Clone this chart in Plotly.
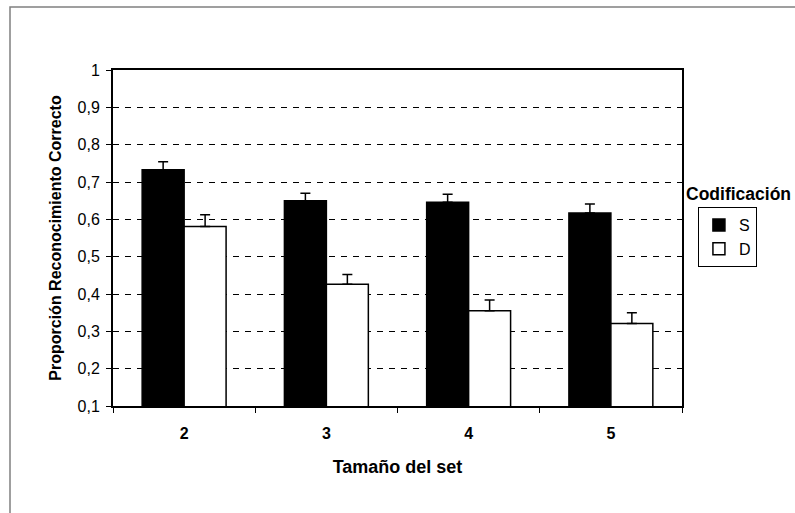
import plotly.graph_objects as go

categories = ["2", "3", "4", "5"]
s_values = [0.733, 0.650, 0.646, 0.617]
s_errors = [0.021, 0.020, 0.021, 0.024]
d_values = [0.581, 0.426, 0.355, 0.321]
d_errors = [0.031, 0.026, 0.029, 0.029]
y_tickvals = [0.1, 0.2, 0.3, 0.4, 0.5, 0.6, 0.7, 0.8, 0.9, 1.0]
y_ticktext = ["0,1", "0,2", "0,3", "0,4", "0,5", "0,6", "0,7", "0,8", "0,9", "1"]

FONT = "Liberation Sans, Arial, sans-serif"

fig = go.Figure()
fig.add_trace(go.Bar(
    x=categories, y=s_values, name="S",
    marker=dict(color="black", line=dict(color="black", width=1.5)),
    error_y=dict(type="data", symmetric=False, array=s_errors,
                 arrayminus=[0] * len(s_errors), color="black",
                 thickness=1.5, width=5),
))
fig.add_trace(go.Bar(
    x=categories, y=d_values, name="D",
    marker=dict(color="white", line=dict(color="black", width=1.5)),
    error_y=dict(type="data", symmetric=False, array=d_errors,
                 arrayminus=[0] * len(d_errors), color="black",
                 thickness=1.5, width=5),
))

fig.update_layout(
    width=795, height=513,
    margin=dict(l=113, r=113, t=70, b=107),
    paper_bgcolor="white", plot_bgcolor="white",
    barmode="group", bargap=0.41, bargroupgap=0,
    font=dict(family=FONT, size=16, color="black"),
    showlegend=True,
    legend=dict(
        x=1.028, y=0.592, xanchor="left", yanchor="top",
        bordercolor="black", borderwidth=1,
        font=dict(family=FONT, size=16, color="black"),
        itemwidth=30, tracegroupgap=0,
    ),
    xaxis=dict(
        type="category",
        showline=True, linecolor="black", linewidth=2, mirror=True,
        ticks="outside", tickson="boundaries", ticklen=5, tickcolor="black",
        tickwidth=1, ticklabelstandoff=12,
        tickfont=dict(family=FONT, size=16, weight="bold"),
        title=dict(text="Tamaño del set",
                   font=dict(family=FONT, size=18, weight="bold"),
                   standoff=19),
        showgrid=False,
    ),
    yaxis=dict(
        range=[0.1, 1.0],
        tickvals=y_tickvals, ticktext=y_ticktext,
        showline=True, linecolor="black", linewidth=2, mirror=True,
        ticks="outside", ticklen=5, tickcolor="black", tickwidth=1,
        ticklabelstandoff=3,
        tickfont=dict(family=FONT, size=16),
        showgrid=True, gridcolor="black", gridwidth=1, griddash="6px,6px",
        zeroline=False,
        title=dict(text="Proporción Reconocimiento Correcto",
                   font=dict(family=FONT, size=16, weight="bold"),
                   standoff=12),
    ),
    annotations=[dict(
        text="<b>Codificación</b>", xref="paper", yref="paper",
        x=1.003, y=0.631, xanchor="left", yanchor="middle",
        showarrow=False, font=dict(family=FONT, size=17.5, color="black"),
    )],
    shapes=[dict(
        type="rect", xref="paper", yref="paper",
        x0=(10 - 113) / 569, x1=(820 - 113) / 569,
        y0=(406 - 540) / 336, y1=(406 - 7) / 336,
        line=dict(color="#808080", width=1.5), fillcolor="rgba(0,0,0,0)",
        layer="below",
    )],
)

fig.write_html(
    "out.html",
    config={"displayModeBar": False},
    post_script="document.body.style.margin='0';document.body.style.overflow='hidden';",
)
